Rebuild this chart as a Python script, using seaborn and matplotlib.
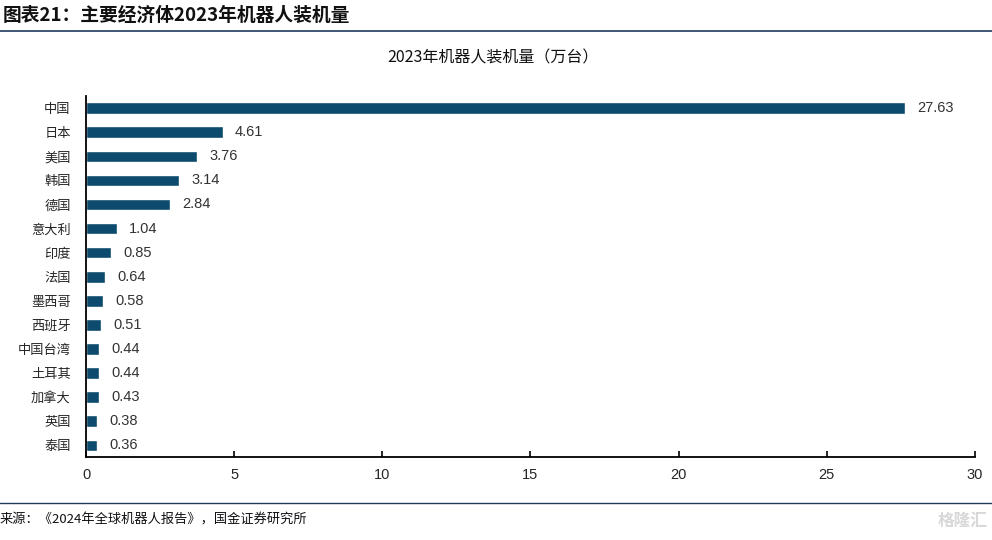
import matplotlib
matplotlib.use("Agg")
import matplotlib.pyplot as plt
from matplotlib.lines import Line2D
import numpy as np
import pandas as pd
import seaborn as sns

# data
countries = ["中国", "日本", "美国", "韩国", "德国", "意大利", "印度", "法国",
             "墨西哥", "西班牙", "中国台湾", "土耳其", "加拿大", "英国", "泰国"]
installs = [27.63, 4.61, 3.76, 3.14, 2.84, 1.04, 0.85, 0.64,
            0.58, 0.51, 0.44, 0.44, 0.43, 0.38, 0.36]
x_ticks = [0, 5, 10, 15, 20, 25, 30]

BAR_COLOR = "#0c4a6e"
LINE_COLOR = "#1f3a5a"
CJK = ["Noto Sans CJK SC", "DejaVu Sans"]
LATIN = ["Liberation Sans", "DejaVu Sans"]

sns.set_theme(style="white")
plt.rcParams["font.family"] = CJK

df = pd.DataFrame({"country": countries, "value": installs})

fig = plt.figure(figsize=(9.92, 5.4), dpi=100)
ax = fig.add_axes([0.0867, 0.153, 0.896, 0.669])

sns.barplot(data=df, x="value", y="country", orient="h", color=BAR_COLOR,
            width=0.48, saturation=1, ax=ax)

for cont in ax.containers:
    ax.bar_label(cont, fmt="%.2f", padding=9, fontsize=10.5, family=LATIN, color="#333333")

ax.set_xlim(0, 30)
ax.set_xticks(x_ticks)
ax.set_xticklabels([str(t) for t in x_ticks], family=LATIN, fontsize=10.5)
ax.set_ylim(len(countries) - 0.5, -0.5)
ax.set_yticks(np.arange(-0.5, len(countries), 1), minor=True)
ax.tick_params(axis="y", which="major", length=0, labelsize=9.5, pad=11)
ax.tick_params(axis="y", which="minor", direction="in", length=3, width=1.2, color="black")
ax.tick_params(axis="x", which="major", direction="in", length=4, width=1.2,
               color="black", pad=8, bottom=True)
ax.set_xlabel("")
ax.set_ylabel("")

sns.despine(ax=ax, top=True, right=True)
for side in ["left", "bottom"]:
    ax.spines[side].set_color("black")
    ax.spines[side].set_linewidth(1.3)

# chart title
fig.text(0.497, 0.892, "2023年机器人装机量（万台）", ha="center", va="center",
         fontsize=11.5, color="#111111")

# report header and footer
fig.text(0.003, 0.972, "图表21：主要经济体2023年机器人装机量", ha="left", va="center",
         fontsize=13.5, fontweight="bold", style="italic", color="#111111")
fig.add_artist(Line2D([0, 1], [0.942, 0.942], transform=fig.transFigure,
                      color=LINE_COLOR, linewidth=1.2))
fig.add_artist(Line2D([0, 1], [0.068, 0.068], transform=fig.transFigure,
                      color=LINE_COLOR, linewidth=1.0))
fig.text(0.0, 0.037, "来源：《2024年全球机器人报告》，国金证券研究所", ha="left", va="center",
         fontsize=9.5, color="#111111")
fig.text(0.995, 0.02, "格隆汇", ha="right", va="bottom", fontsize=12,
         color="#d8d8d8", fontweight="bold")

fig.savefig("out.png", dpi=100)
